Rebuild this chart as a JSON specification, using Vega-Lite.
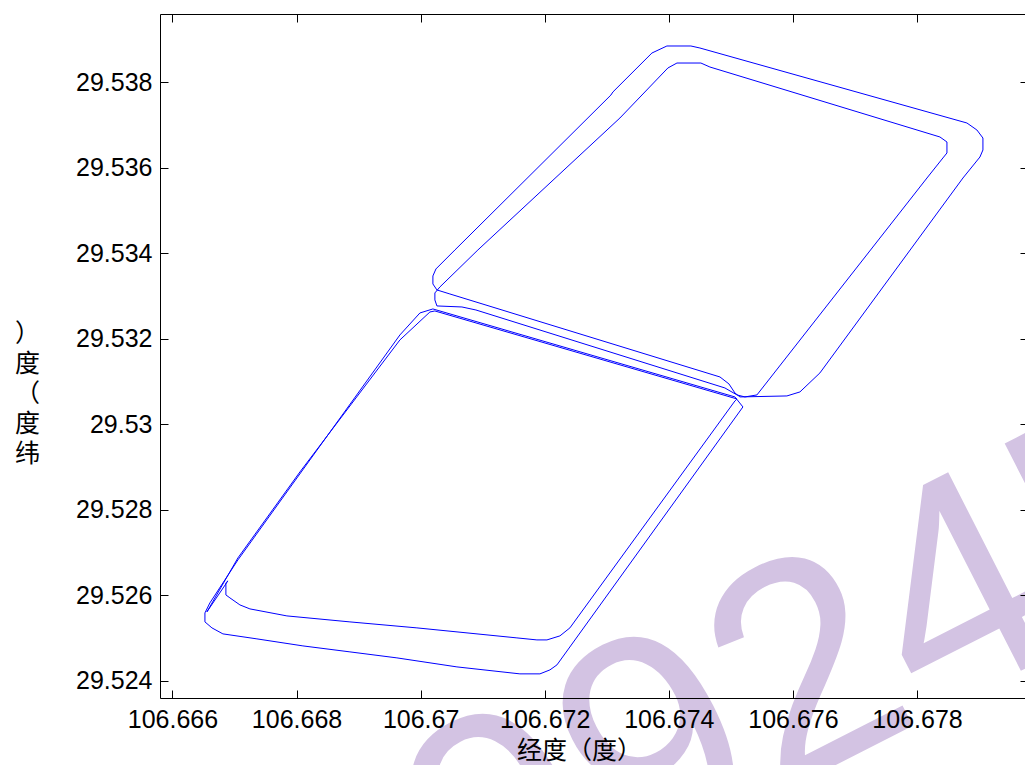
{
  "$schema": "https://vega.github.io/schema/vega-lite/v6.json",
  "width": 865,
  "height": 684,
  "autosize": {"type": "none"},
  "padding": {"left": 160, "top": 14, "right": 0, "bottom": 67},
  "background": "white",
  "config": {"view": {"stroke": null}},
  "datasets": {
    "watermark": [
      {"text": "9924E", "lon": 106.670846, "lat": 29.517713}
    ],
    "track": [
      {"seg": "A", "i": 1, "lon": 106.670263, "lat": 29.533139},
      {"seg": "A", "i": 2, "lon": 106.670472, "lat": 29.533045},
      {"seg": "A", "i": 3, "lon": 106.674824, "lat": 29.531105},
      {"seg": "A", "i": 4, "lon": 106.674969, "lat": 29.530942},
      {"seg": "A", "i": 5, "lon": 106.675065, "lat": 29.530731},
      {"seg": "A", "i": 6, "lon": 106.675146, "lat": 29.530638},
      {"seg": "A", "i": 7, "lon": 106.675903, "lat": 29.530661},
      {"seg": "A", "i": 8, "lon": 106.676113, "lat": 29.530755},
      {"seg": "A", "i": 9, "lon": 106.676435, "lat": 29.531199},
      {"seg": "A", "i": 10, "lon": 106.67874, "lat": 29.535756},
      {"seg": "A", "i": 11, "lon": 106.679014, "lat": 29.536247},
      {"seg": "A", "i": 12, "lon": 106.679062, "lat": 29.536411},
      {"seg": "A", "i": 13, "lon": 106.679062, "lat": 29.536691},
      {"seg": "A", "i": 14, "lon": 106.678965, "lat": 29.536878},
      {"seg": "A", "i": 15, "lon": 106.678804, "lat": 29.537042},
      {"seg": "A", "i": 16, "lon": 106.674501, "lat": 29.538795},
      {"seg": "A", "i": 17, "lon": 106.674356, "lat": 29.538842},
      {"seg": "A", "i": 18, "lon": 106.673969, "lat": 29.538842},
      {"seg": "A", "i": 19, "lon": 106.673728, "lat": 29.538678},
      {"seg": "A", "i": 20, "lon": 106.673099, "lat": 29.537767},
      {"seg": "A", "i": 21, "lon": 106.673067, "lat": 29.537696},
      {"seg": "A", "i": 22, "lon": 106.670553, "lat": 29.534074},
      {"seg": "A", "i": 23, "lon": 106.670247, "lat": 29.53363},
      {"seg": "A", "i": 24, "lon": 106.670198, "lat": 29.533466},
      {"seg": "A", "i": 25, "lon": 106.670198, "lat": 29.533279},
      {"seg": "A", "i": 26, "lon": 106.670263, "lat": 29.533139},
      {"seg": "B", "i": 1, "lon": 106.67023, "lat": 29.532905},
      {"seg": "B", "i": 2, "lon": 106.670263, "lat": 29.532765},
      {"seg": "B", "i": 3, "lon": 106.670666, "lat": 29.532741},
      {"seg": "B", "i": 4, "lon": 106.670891, "lat": 29.532671},
      {"seg": "B", "i": 5, "lon": 106.674904, "lat": 29.530848},
      {"seg": "B", "i": 6, "lon": 106.675098, "lat": 29.530685},
      {"seg": "B", "i": 7, "lon": 106.675226, "lat": 29.530638},
      {"seg": "B", "i": 8, "lon": 106.67542, "lat": 29.530685},
      {"seg": "B", "i": 9, "lon": 106.67816, "lat": 29.535756},
      {"seg": "B", "i": 10, "lon": 106.678417, "lat": 29.536224},
      {"seg": "B", "i": 11, "lon": 106.678482, "lat": 29.536341},
      {"seg": "B", "i": 12, "lon": 106.678482, "lat": 29.536598},
      {"seg": "B", "i": 13, "lon": 106.678369, "lat": 29.536715},
      {"seg": "B", "i": 14, "lon": 106.674662, "lat": 29.538351},
      {"seg": "B", "i": 15, "lon": 106.674517, "lat": 29.538444},
      {"seg": "B", "i": 16, "lon": 106.674131, "lat": 29.538444},
      {"seg": "B", "i": 17, "lon": 106.673985, "lat": 29.538328},
      {"seg": "B", "i": 18, "lon": 106.673212, "lat": 29.537159},
      {"seg": "B", "i": 19, "lon": 106.670923, "lat": 29.534074},
      {"seg": "B", "i": 20, "lon": 106.670311, "lat": 29.533209},
      {"seg": "B", "i": 21, "lon": 106.67023, "lat": 29.533069},
      {"seg": "B", "i": 22, "lon": 106.67023, "lat": 29.532905},
      {"seg": "C", "i": 1, "lon": 106.670198, "lat": 29.532695},
      {"seg": "C", "i": 2, "lon": 106.675065, "lat": 29.530638},
      {"seg": "C", "i": 3, "lon": 106.675194, "lat": 29.530404},
      {"seg": "C", "i": 4, "lon": 106.672197, "lat": 29.524374},
      {"seg": "C", "i": 5, "lon": 106.672084, "lat": 29.524257},
      {"seg": "C", "i": 6, "lon": 106.671923, "lat": 29.524164},
      {"seg": "C", "i": 7, "lon": 106.6716, "lat": 29.524164},
      {"seg": "C", "i": 8, "lon": 106.670585, "lat": 29.524327},
      {"seg": "C", "i": 9, "lon": 106.669618, "lat": 29.524538},
      {"seg": "C", "i": 10, "lon": 106.668861, "lat": 29.524678},
      {"seg": "C", "i": 11, "lon": 106.668103, "lat": 29.524818},
      {"seg": "C", "i": 12, "lon": 106.667362, "lat": 29.524982},
      {"seg": "C", "i": 13, "lon": 106.666814, "lat": 29.525099},
      {"seg": "C", "i": 14, "lon": 106.666637, "lat": 29.525239},
      {"seg": "C", "i": 15, "lon": 106.666524, "lat": 29.525379},
      {"seg": "C", "i": 16, "lon": 106.666524, "lat": 29.525589},
      {"seg": "C", "i": 17, "lon": 106.666604, "lat": 29.525823},
      {"seg": "C", "i": 18, "lon": 106.667056, "lat": 29.526828},
      {"seg": "C", "i": 19, "lon": 106.669666, "lat": 29.532087},
      {"seg": "C", "i": 20, "lon": 106.669989, "lat": 29.532601},
      {"seg": "C", "i": 21, "lon": 106.670198, "lat": 29.532695},
      {"seg": "D", "i": 1, "lon": 106.67023, "lat": 29.532648},
      {"seg": "D", "i": 2, "lon": 106.675098, "lat": 29.530591},
      {"seg": "D", "i": 3, "lon": 106.675065, "lat": 29.530544},
      {"seg": "D", "i": 4, "lon": 106.672406, "lat": 29.525239},
      {"seg": "D", "i": 5, "lon": 106.672245, "lat": 29.525052},
      {"seg": "D", "i": 6, "lon": 106.672036, "lat": 29.524958},
      {"seg": "D", "i": 7, "lon": 106.671874, "lat": 29.524958},
      {"seg": "D", "i": 8, "lon": 106.671552, "lat": 29.525005},
      {"seg": "D", "i": 9, "lon": 106.66994, "lat": 29.525239},
      {"seg": "D", "i": 10, "lon": 106.668861, "lat": 29.525379},
      {"seg": "D", "i": 11, "lon": 106.667845, "lat": 29.525519},
      {"seg": "D", "i": 12, "lon": 106.667249, "lat": 29.525683},
      {"seg": "D", "i": 13, "lon": 106.667088, "lat": 29.525776},
      {"seg": "D", "i": 14, "lon": 106.666927, "lat": 29.52594},
      {"seg": "D", "i": 15, "lon": 106.666862, "lat": 29.52601},
      {"seg": "D", "i": 16, "lon": 106.666862, "lat": 29.526291},
      {"seg": "D", "i": 17, "lon": 106.666894, "lat": 29.526337},
      {"seg": "D", "i": 18, "lon": 106.666556, "lat": 29.525613},
      {"seg": "D", "i": 19, "lon": 106.667056, "lat": 29.526875},
      {"seg": "D", "i": 20, "lon": 106.668055, "lat": 29.528885},
      {"seg": "D", "i": 21, "lon": 106.669666, "lat": 29.53197},
      {"seg": "D", "i": 22, "lon": 106.67015, "lat": 29.532624},
      {"seg": "D", "i": 23, "lon": 106.67023, "lat": 29.532648}
    ]
  },
  "layer": [
    {
      "data": {"name": "watermark"},
      "mark": {"type": "text", "font": "Liberation Sans", "fontSize": 305, "angle": -27, "align": "left", "baseline": "alphabetic", "color": "#d3c3e3", "clip": false},
      "encoding": {
        "x": {
          "field": "lon", "type": "quantitative",
          "scale": {"domain": [106.6658, 106.67974], "nice": false, "zero": false},
          "axis": {
            "orient": "bottom", "values": [106.666, 106.668, 106.67, 106.672, 106.674, 106.676, 106.678],
            "format": ".6~g", "grid": false, "zindex": 1,
            "domainColor": "black", "tickColor": "black", "tickSize": -8, "labelPadding": 37,
            "labelBaseline": "alphabetic", "labelFont": "Liberation Sans", "labelFontSize": 25, "labelColor": "black",
            "labelFlush": false, "labelOverlap": false,
            "title": "经度（度）", "titleFont": "Noto Sans CJK SC", "titleFontSize": 25, "titleFontWeight": "normal",
            "titleColor": "black", "titleX": 419, "titleY": 60, "titleAlign": "center", "titleBaseline": "alphabetic"
          }
        },
        "y": {
          "field": "lat", "type": "quantitative",
          "scale": {"domain": [29.5236, 29.53959], "nice": false, "zero": false},
          "axis": {
            "orient": "left", "values": [29.524, 29.526, 29.528, 29.53, 29.532, 29.534, 29.536, 29.538],
            "format": ".5~g", "grid": false, "zindex": 1,
            "domainColor": "black", "tickColor": "black", "tickSize": -8, "labelPadding": 16,
            "labelFont": "Liberation Sans", "labelFontSize": 25, "labelColor": "black",
            "labelFlush": false, "labelOverlap": false,
            "title": ["）", "度", "（", "度", "纬"], "titleFont": "Noto Sans CJK SC", "titleFontSize": 25, "titleFontWeight": "normal",
            "titleColor": "black", "titleAngle": 0, "titleX": -133, "titleY": 327, "titleAlign": "center",
            "titleBaseline": "alphabetic", "titleLineHeight": 30
          }
        },
        "text": {"field": "text"}
      }
    },
    {
      "data": {"name": "track"},
      "mark": {"type": "line", "color": "#0000ff", "strokeWidth": 1, "interpolate": "linear"},
      "encoding": {
        "x": {
          "field": "lon", "type": "quantitative",
          "scale": {"domain": [106.6658, 106.67974], "nice": false, "zero": false},
          "axis": {
            "orient": "top", "values": [106.666, 106.668, 106.67, 106.672, 106.674, 106.676, 106.678],
            "labels": false, "grid": false, "zindex": 1, "title": null,
            "domainColor": "black", "tickColor": "black", "tickSize": -8
          }
        },
        "y": {
          "field": "lat", "type": "quantitative",
          "scale": {"domain": [29.5236, 29.53959], "nice": false, "zero": false},
          "axis": {
            "orient": "right", "values": [29.524, 29.526, 29.528, 29.53, 29.532, 29.534, 29.536, 29.538],
            "labels": false, "grid": false, "zindex": 1, "title": null, "domain": false,
            "tickColor": "black", "tickSize": -5
          }
        },
        "detail": {"field": "seg"},
        "order": {"field": "i", "type": "quantitative"}
      }
    }
  ],
  "resolve": {"axis": {"x": "independent", "y": "independent"}}
}
